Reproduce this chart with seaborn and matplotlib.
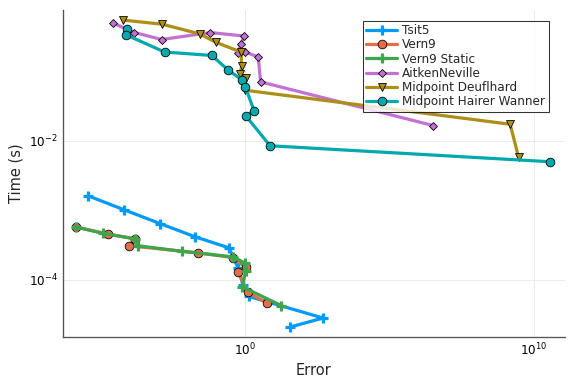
import numpy as np
import matplotlib
matplotlib.use("Agg")
import matplotlib.pyplot as plt
import seaborn as sns

# work-precision data, stored as log10(error) / log10(time)
tsit5_err = [-5.43, -4.19, -2.94, -1.73, -0.55, -0.24, -0.07, 0.14, 2.70, 1.56]
tsit5_time = [-2.79, -2.99, -3.19, -3.38, -3.54, -3.83, -4.07, -4.24, -4.55, -4.68]

vern9_err = [-5.85, -4.74, -3.81, -4.01, -1.63, -0.42, 0.02, -0.23, 0.02, 0.09, 0.75]
vern9_time = [-3.24, -3.34, -3.41, -3.51, -3.61, -3.68, -3.76, -3.89, -3.89, -4.18, -4.33]

vern9s_err = [-5.85, -4.92, -3.81, -3.69, -2.19, -0.40, 0.00, 0.02, -0.09, 1.25]
vern9s_time = [-3.24, -3.33, -3.41, -3.51, -3.59, -3.67, -3.76, -3.88, -4.10, -4.37]

aitken_err = [-4.58, -3.82, -2.88, -1.20, -0.03, -0.14, -0.25, 0.00, 0.46, 0.54, 6.52]
aitken_time = [-0.30, -0.44, -0.54, -0.44, -0.49, -0.61, -0.74, -0.72, -0.79, -1.15, -1.78]

deuf_err = [-4.23, -2.86, -1.56, -1.01, -0.14, -0.11, -0.17, 0.03, 0.00, 9.17, 9.46]
deuf_time = [-0.26, -0.32, -0.46, -0.58, -0.72, -0.92, -1.03, -1.10, -1.27, -1.76, -2.23]

hw_err = [-4.09, -4.13, -2.78, -1.15, -0.58, -0.11, 0.01, 0.32, 0.03, 0.87, 10.55]
hw_time = [-0.39, -0.47, -0.72, -0.77, -0.98, -1.12, -1.22, -1.57, -1.64, -2.07, -2.30]

series = [
    ("Tsit5", tsit5_err, tsit5_time, "#009AFA", "+", 8),
    ("Vern9", vern9_err, vern9_time, "#E36F47", "o", 6.5),
    ("Vern9 Static", vern9s_err, vern9s_time, "#3EA44E", "+", 8),
    ("AitkenNeville", aitken_err, aitken_time, "#C371D2", "D", 4.5),
    ("Midpoint Deuflhard", deuf_err, deuf_time, "#AC8E18", "v", 6.5),
    ("Midpoint Hairer Wanner", hw_err, hw_time, "#00A9AD", "o", 6.5),
]

sns.set_style("white")
fig, ax = plt.subplots(figsize=(6, 4), dpi=96)
fig.subplots_adjust(left=0.109, right=0.981, bottom=0.123, top=0.974)

for name, ex, ty, col, mk, ms in series:
    if mk == "+":
        kw = dict(markeredgecolor=col, markeredgewidth=2.4)
    else:
        kw = dict(markeredgecolor="black", markeredgewidth=0.6)
    sns.lineplot(x=10 ** np.array(ex), y=10 ** np.array(ty), sort=False,
                 ax=ax, color=col, linewidth=2.4, marker=mk, markersize=ms,
                 label=name, **kw)

ax.set_xscale("log")
ax.set_yscale("log")
ax.set_xlim(10 ** -6.30, 10 ** 11.07)
ax.set_ylim(10 ** -4.82, 10 ** -0.115)
ax.set_xticks([1, 1e10])
ax.set_yticks([1e-4, 1e-2])
ax.minorticks_off()
ax.tick_params(direction="in", length=4, labelsize=9, colors="black")
ax.grid(True, color="#e6e6e6", linewidth=0.6)
ax.set_xlabel("Error", fontsize=11)
ax.set_ylabel("Time (s)", fontsize=11)
for s in ["top", "right"]:
    ax.spines[s].set_visible(False)
for s in ["left", "bottom"]:
    ax.spines[s].set_color("#555555")
    ax.spines[s].set_linewidth(1.0)

leg = ax.legend(loc="upper right", bbox_to_anchor=(0.972, 0.975), fontsize=9,
                frameon=True, fancybox=False, borderpad=0.3, labelspacing=0.1,
                handlelength=2.6, handletextpad=0.4, borderaxespad=0.2)
leg.get_frame().set_edgecolor("black")
leg.get_frame().set_linewidth(0.8)

fig.savefig("out.png", dpi=96)
